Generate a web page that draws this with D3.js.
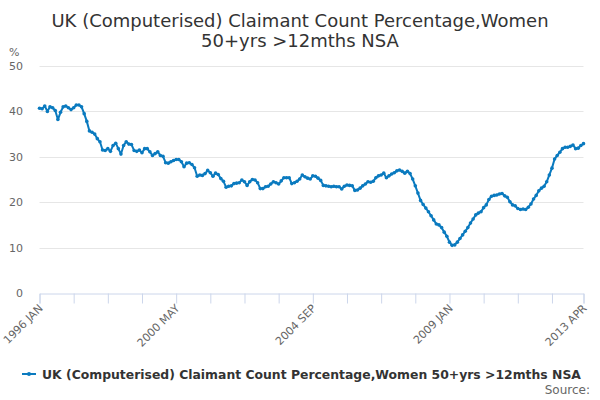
<!DOCTYPE html>
<html lang="en">
<head>
<meta charset="UTF-8">
<title>UK Claimant Count Percentage, Women 50+</title>
<script src="https://d3js.org/d3.v7.min.js"></script>
<style>
  body { margin: 0; background: #fff; font-family: "DejaVu Sans", sans-serif; }
  svg { display: block; }
  .grid line { stroke: #e6e6e6; }
  .title { font-size: 18px; fill: #333; }
  .ytick { font-size: 11px; fill: #666; }
  .xtick { font-size: 11px; fill: #666; }
</style>
</head>
<body>
<svg width="600" height="400"></svg>
<script>
  // Monthly series, 1996 JAN .. 2013 APR
  const startYear = 1996;
  const monthNames = ["JAN","FEB","MAR","APR","MAY","JUN","JUL","AUG","SEP","OCT","NOV","DEC"];
  const values = [
    40.7, 40.6, 41.2, 40.0, 41.0, 40.8, 40.2, 38.2, 39.8, 41.0, 41.2, 40.8, 40.4, 40.8, 41.4, 41.4,
    41.0, 39.5, 37.8, 35.7, 35.4, 35.0, 34.0, 33.3,
    31.5, 31.4, 31.8, 31.2, 32.5, 33.0, 31.8, 30.6, 32.5, 33.3, 32.8, 32.7, 31.4, 31.2, 31.5, 30.9,
    31.8, 31.8, 31.1, 30.3, 30.7, 31.1, 30.3, 30.1, 28.7, 28.6, 28.9, 29.2, 29.4,
    29.4, 28.9, 27.8, 28.6, 28.7, 28.3, 27.6, 25.7, 26.0, 25.9, 26.3, 27.0, 26.5, 25.7, 26.4, 26.1,
    25.2, 24.6, 23.3, 23.5, 23.6, 24.1, 24.2, 24.3, 24.9, 24.5, 23.7, 24.5, 25.0, 24.9, 24.3, 23.0,
    23.0, 23.4, 23.5, 24.0, 24.5, 24.3, 24.0, 24.7, 25.4, 25.4, 25.4, 24.1, 24.3, 24.6, 25.1,
    26.0, 25.6, 25.3, 25.1, 25.8, 25.7, 25.3, 24.8, 23.7, 23.6, 23.5, 23.4, 23.5, 23.4, 23.4, 22.9,
    23.5, 23.8, 23.7, 23.6, 22.6, 22.7, 23.1, 23.6, 24.0, 24.5, 24.4, 24.6, 25.4, 25.8, 26.0, 26.4,
    25.4, 25.8, 26.2, 26.5, 26.9, 27.1, 26.8, 26.4, 26.8, 26.3, 25.1, 23.6, 22.0, 20.4, 19.5, 18.7,
    17.9, 17.0, 16.1, 15.2, 15.0, 14.4, 13.4, 12.5, 11.2, 10.5, 10.6, 11.2, 12.0, 12.8, 13.6, 14.4,
    15.4, 16.3, 17.2, 17.6, 17.9, 18.8, 19.4, 20.6, 21.3, 21.5, 21.6, 21.8, 21.9, 21.4, 21.1, 20.1,
    19.4, 19.2, 18.6, 18.4, 18.5, 18.4, 18.9, 19.6, 20.7, 21.5, 22.5, 23.1, 23.5, 24.5, 26.0, 27.5,
    29.5, 30.3, 31.0, 31.8, 32.1, 32.1, 32.3, 32.6, 31.8, 31.9, 32.5, 32.9
  ];
  const yTicks = [0, 10, 20, 30, 40, 50];
  const labelIdx = [0, 52, 104, 156, 207];
  const titleLines = ["UK (Computerised) Claimant Count Percentage,Women", "50+yrs >12mths NSA"];
  const seriesName = "UK (Computerised) Claimant Count Percentage,Women 50+yrs >12mths NSA";
  const color = "#0a7abf";

  const data = values.map((v, i) => ({ i, v }));
  const monthLabel = i => (startYear + Math.floor(i / 12)) + " " + monthNames[i % 12];

  const svg = d3.select("svg");
  const plotLeft = 39.5, plotRight = 583.5, plotTop = 66, plotBottom = 293;

  const x = d3.scaleLinear().domain([0, values.length - 1]).range([plotLeft, plotRight]);
  const y = d3.scaleLinear().domain([0, 50]).range([plotBottom, plotTop]);

  // Title
  svg.append("text").attr("class", "title").attr("text-anchor", "middle")
    .selectAll("tspan").data(titleLines).join("tspan")
    .attr("x", 300).attr("y", (d, k) => 27 + k * 20).text(d => d);

  // Gridlines
  svg.append("g").attr("class", "grid")
    .selectAll("line").data(yTicks.filter(t => t > 0)).join("line")
    .attr("x1", plotLeft).attr("x2", plotRight)
    .attr("y1", d => Math.round(y(d)) + 0.5).attr("y2", d => Math.round(y(d)) + 0.5);

  // Y labels
  svg.append("g").selectAll("text").data(yTicks).join("text")
    .attr("class", "ytick").attr("text-anchor", "end")
    .attr("x", 23).attr("y", d => y(d) + 4).text(d => d);
  svg.append("text").attr("class", "ytick").attr("x", 9).attr("y", 56).text("%");

  // X axis
  const tickVals = d3.range(0, values.length, 13).concat([values.length - 1]);
  const xAxis = svg.append("g").attr("transform", `translate(0,${plotBottom + 0.5})`)
    .call(d3.axisBottom(x).tickValues(tickVals).tickSize(10).tickFormat(""));
  xAxis.select(".domain").attr("stroke", "#ccd6eb");
  xAxis.selectAll(".tick line").attr("stroke", "#ccd6eb");

  svg.append("g").selectAll("text").data(labelIdx).join("text")
    .attr("class", "xtick").attr("text-anchor", "end")
    .attr("transform", d => `translate(${x(d) + 4},${plotBottom + 16}) rotate(-45)`)
    .text(d => monthLabel(d));

  // Line
  const line = d3.line().x(d => x(d.i)).y(d => y(d.v));
  svg.append("path").datum(data)
    .attr("fill", "none").attr("stroke", color).attr("stroke-width", 2)
    .attr("stroke-linejoin", "round").attr("d", line);
  svg.append("g").selectAll("circle").data(data).join("circle")
    .attr("cx", d => x(d.i)).attr("cy", d => y(d.v)).attr("r", 1.8).attr("fill", color);

  // Legend
  const legend = svg.append("g").attr("transform", "translate(22,374)");
  legend.append("line").attr("x1", 0).attr("x2", 14).attr("y1", 0).attr("y2", 0)
    .attr("stroke", color).attr("stroke-width", 2);
  legend.append("circle").attr("cx", 7).attr("cy", 0).attr("r", 2).attr("fill", color);
  legend.append("text").attr("x", 20).attr("y", 4.5)
    .attr("font-size", 12.4).attr("font-weight", "bold").attr("fill", "#333")
    .text(seriesName);

  svg.append("text").attr("x", 590).attr("y", 394).attr("text-anchor", "end")
    .attr("font-size", 12).attr("fill", "#666").text("Source:");
</script>
</body>
</html>
